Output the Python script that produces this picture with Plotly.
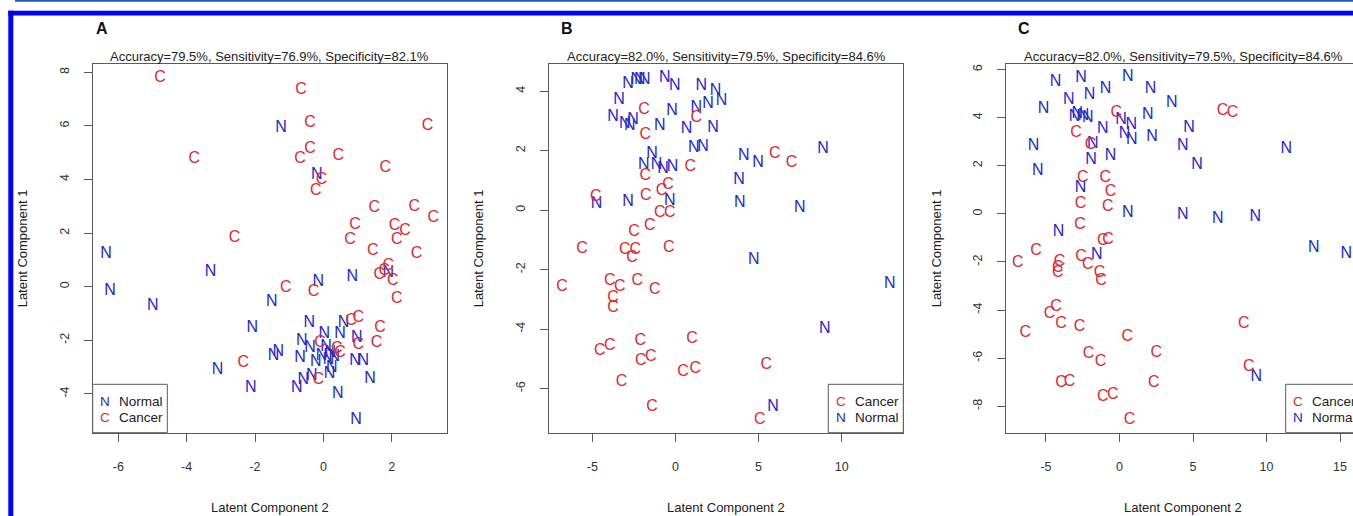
import plotly.graph_objects as go

# ---------------- data ----------------
# Panel A
a_cancer_x = [-4.78, -0.65, -0.39, 3.05, -3.78, -0.39, -0.68, 0.44, 1.81, -0.05, -0.22, 1.49, 2.66, 3.22,
              0.93, 2.08, 2.39, 0.78, 2.15, -2.60, 1.45, 2.73, 1.64, 1.90, 1.78, 2.03, 2.15, -1.10, -0.29,
              -2.34, 0.81, 1.02, 1.66, 1.02, 1.56, -0.10, 0.39, 0.49, -0.15]
a_cancer_y = [7.79, 7.35, 6.10, 5.98, 4.76, 5.13, 4.78, 4.88, 4.42, 3.99, 3.57, 2.92, 2.99, 2.58,
              2.29, 2.27, 2.06, 1.73, 1.74, 1.83, 1.33, 1.21, 0.42, 0.77, 0.60, 0.21, -0.47, -0.06, -0.20,
              -2.84, -1.29, -1.16, -1.53, -2.16, -2.09, -2.09, -2.34, -2.47, -3.47]
a_normal_x = [-1.24, -0.19, -6.36, 1.90, -3.30, -6.24, -4.99, -1.51, -0.15, 0.85, -2.08, -3.10, -2.12,
              -0.41, 0.59, 0.03, 0.49, 0.98, -0.63, -0.39, -1.32, -1.46, -0.68, -0.05, 0.20, 0.15, 0.25,
              0.93, 1.17, 1.37, -0.34, -0.59, -0.78, 0.42, 0.96, 0.08, 0.32, -0.22, 0.18]
a_normal_y = [5.94, 4.16, 1.21, 0.50, 0.55, -0.16, -0.72, -0.56, 0.17, 0.37, -1.56, -3.12, -3.78,
              -1.35, -1.35, -1.78, -1.78, -1.91, -2.03, -2.28, -2.44, -2.59, -2.65, -2.59, -2.47, -2.72, -3.03,
              -2.78, -2.78, -3.44, -3.34, -3.47, -3.78, -3.99, -4.99, -2.25, -2.62, -2.80, -3.25]

# Panel B
b_cancer_x = [-1.89, 1.26, -1.81, 0.90, -1.81, -0.45, -0.84, -1.79, -4.80, -0.94, -0.34, -1.55, -2.49,
              -5.62, -3.05, -2.41, -2.61, -0.40, -6.82, -3.95, -3.35, -2.29, -1.25, -3.75, -3.75, -4.55,
              -3.95, -2.11, 1.00, -2.09, -1.49, 0.46, 1.20, -3.25, -1.41, 5.47, 5.07, 5.97, 6.98]
b_cancer_y = [3.36, 3.10, 2.51, 1.46, 1.14, 0.86, 0.64, 0.47, 0.45, -0.11, -0.11, -0.54, -0.74,
              -1.32, -1.34, -1.34, -1.60, -1.26, -2.60, -2.38, -2.57, -2.38, -2.68, -2.94, -3.28, -4.73,
              -4.56, -4.40, -4.32, -5.07, -4.95, -5.44, -5.35, -5.79, -6.63, -5.21, -7.05, 1.87, 1.57]
b_normal_x = [-2.85, -2.35, -2.15, -1.85, -0.64, -0.04, 1.56, 2.41, -3.39, 1.26, 1.96, 2.77, -0.20,
              -3.75, -3.05, -2.75, -2.55, -0.94, 0.66, 2.26, 1.10, 1.66, -1.41, -1.91, -1.14, -0.75,
              -0.18, -4.75, -2.85, -0.34, 8.88, 4.11, 4.97, 3.83, 3.87, 7.48, 4.71, 12.89, 8.98, 5.87]
b_normal_y = [4.25, 4.36, 4.36, 4.36, 4.44, 4.16, 4.16, 3.99, 3.69, 3.44, 3.55, 3.66, 3.32,
              3.13, 2.88, 2.82, 3.04, 2.82, 2.73, 2.77, 2.09, 2.13, 1.87, 1.53, 1.50, 1.37,
              1.46, 0.19, 0.27, 0.30, 2.07, 1.81, 1.57, 1.01, 0.25, 0.08, -1.68, -2.49, -4.00, -6.63]

# Panel C
c_cancer_x = [-0.22, 7.01, 7.69, -2.95, -1.97, -2.50, -0.97, -0.61, -2.65, -0.80, -2.68, -1.14, -0.78,
              -5.67, -6.92, -4.08, -4.20, -4.20, -2.61, -2.16, -1.36, -1.25, -4.31, -4.76, -3.97, -2.72,
              -6.41, 0.52, 2.50, -2.11, -1.29, -3.97, -3.40, 2.33, -1.14, -0.46, 0.68, 8.46, 8.80]
c_cancer_y = [4.20, 4.26, 4.20, 3.37, 2.86, 1.51, 1.51, 0.91, 0.43, 0.29, -0.47, -1.14, -1.10,
              -1.54, -2.04, -2.00, -2.27, -2.45, -1.79, -2.13, -2.48, -2.79, -3.87, -4.17, -4.56, -4.70,
              -4.95, -5.11, -5.78, -5.81, -6.15, -7.05, -6.99, -7.05, -7.63, -7.54, -8.58, -4.56, -6.36]
c_normal_x = [-4.35, -2.61, 0.57, -2.04, -0.95, 2.11, -3.45, 3.56, -5.17, -2.88, -2.16, -3.06, 0.11,
              0.80, 1.93, 4.72, -1.14, 0.34, 0.84, 2.22, 4.31, -5.85, -1.81, -1.93, -0.61, 5.28, -5.56,
              -2.65, 0.57, 4.31, 6.69, 11.34, 9.23, 13.22, 15.42, -4.15, -1.54, 9.30, -2.45]
c_normal_y = [5.49, 5.63, 5.67, 4.94, 5.17, 5.21, 4.73, 4.59, 4.34, 4.17, 3.97, 4.03, 3.90,
              3.69, 4.13, 3.55, 3.51, 3.34, 3.09, 3.18, 2.82, 2.82, 2.90, 2.23, 2.40, 2.02, 1.78,
              1.06, 0.04, -0.05, -0.22, 2.69, -0.12, -1.44, -1.65, -0.75, -1.72, -6.80, 4.05]

# tick values / labels
a_xticks = [-6, -4, -2, 0, 2]
a_yticks = [-4, -2, 0, 2, 4, 6, 8]
b_xticks = [-5, 0, 5, 10]
b_yticks = [-6, -4, -2, 0, 2, 4]
c_xticks = [-5, 0, 5, 10, 15]
c_yticks = [-8, -6, -4, -2, 0, 2, 4, 6]

panel_letters = ["A", "B", "C"]
panel_titles = ["Accuracy=79.5%, Sensitivity=76.9%, Specificity=82.1%",
                "Accuracy=82.0%, Sensitivity=79.5%, Specificity=84.6%",
                "Accuracy=82.0%, Sensitivity=79.5%, Specificity=84.6%"]
x_title = "Latent Component 2"
y_title = "Latent Component 1"

# ---------------- styling ----------------
W, H = 1353, 516
FONT = "Liberation Sans, Arial, Helvetica, sans-serif"
RED = "#dc2a30"
BLUE = "#2626cc"
LINE = "#5a5a5a"
TXT = "#333333"


def fx(px):
    return px / W


def fy(py):
    return 1 - py / H


TOP, BOT = 64.0, 432.7
panels = [
    dict(sfx="", left=92.7, right=446.7, xr=[-6.75, 3.61], yr=[-5.45, 8.31],
         xt=a_xticks, yt=a_yticks, cx=a_cancer_x, cy=a_cancer_y, nx=a_normal_x, ny=a_normal_y,
         letter_x=101.7, legend_order=[("N", "Normal", BLUE), ("C", "Cancer", RED)],
         leg_left=92.7, leg_right=167.3, mirror_y=True, ytitle_x=22.0),
    dict(sfx="2", left=549.3, right=903.3, xr=[-7.59, 13.71], yr=[-7.48, 4.91],
         xt=b_xticks, yt=b_yticks, cx=b_cancer_x, cy=b_cancer_y, nx=b_normal_x, ny=b_normal_y,
         letter_x=566.7, legend_order=[("C", "Cancer", RED), ("N", "Normal", BLUE)],
         leg_left=828.3, leg_right=903.3, mirror_y=True, ytitle_x=478.0),
    dict(sfx="3", left=1006.0, right=1353.0, xr=[-7.72, 15.88], yr=[-9.10, 6.23],
         xt=c_xticks, yt=c_yticks, cx=c_cancer_x, cy=c_cancer_y, nx=c_normal_x, ny=c_normal_y,
         letter_x=1024.0, legend_order=[("C", "Cancer", RED), ("N", "Normal", BLUE)],
         leg_left=1285.7, leg_right=1365.0, mirror_y=False, ytitle_x=936.0),
]

fig = go.Figure()
layout = dict(
    width=W, height=H, margin=dict(l=0, r=0, t=0, b=0, pad=0),
    paper_bgcolor="white", plot_bgcolor="white", showlegend=False,
    font=dict(family=FONT, color=TXT),
)
shapes = []
annotations = []

for i, p in enumerate(panels):
    xa = "x" + p["sfx"]
    ya = "y" + p["sfx"]
    fig.add_trace(go.Scatter(x=p["nx"], y=p["ny"], mode="text", text=["N"] * len(p["nx"]),
                             textposition="middle center",
                             textfont=dict(color=BLUE, size=16, family=FONT),
                             xaxis=xa, yaxis=ya, hoverinfo="skip", cliponaxis=False))
    fig.add_trace(go.Scatter(x=p["cx"], y=p["cy"], mode="text", text=["C"] * len(p["cx"]),
                             textposition="middle center",
                             textfont=dict(color=RED, size=16, family=FONT),
                             xaxis=xa, yaxis=ya, hoverinfo="skip", cliponaxis=False))
    layout["xaxis" + p["sfx"]] = dict(
        domain=[fx(p["left"]), fx(p["right"])], range=p["xr"], anchor=ya,
        showline=True, mirror=True, linecolor=LINE, linewidth=1,
        ticks="outside", ticklen=8, tickwidth=1, tickcolor=LINE,
        tickmode="array", tickvals=p["xt"], ticktext=[str(v) for v in p["xt"]],
        tickfont=dict(size=12.5, color=TXT, family=FONT),
        showgrid=False, zeroline=False, ticklabelstandoff=14, fixedrange=True)
    layout["yaxis" + p["sfx"]] = dict(
        domain=[fy(BOT), fy(TOP)], range=p["yr"], anchor=xa,
        showline=True, mirror=p["mirror_y"], linecolor=LINE, linewidth=1,
        ticks="outside", ticklen=8, tickwidth=1, tickcolor=LINE,
        tickmode="array", tickvals=p["yt"], ticktext=[str(v) for v in p["yt"]],
        tickangle=-90, tickfont=dict(size=12.5, color=TXT, family=FONT),
        showgrid=False, zeroline=False, ticklabelstandoff=10, fixedrange=True)

    cxm = (p["left"] + (p["right"] if p["sfx"] != "3" else p["left"] + 354.0)) / 2
    # panel title
    annotations.append(dict(text=panel_titles[i], x=fx(cxm), y=fy(56.7), xref="paper", yref="paper",
                            showarrow=False, xanchor="center", yanchor="middle",
                            font=dict(size=13, color="#222222", family=FONT)))
    # panel letter
    annotations.append(dict(text="<b>%s</b>" % panel_letters[i], x=fx(p["letter_x"]), y=fy(28.3),
                            xref="paper", yref="paper", showarrow=False, xanchor="center",
                            yanchor="middle", font=dict(size=16, color="#111111", family=FONT)))
    # axis titles
    annotations.append(dict(text=x_title, x=fx(cxm), y=fy(507.3), xref="paper", yref="paper",
                            showarrow=False, xanchor="center", yanchor="middle",
                            font=dict(size=13, color="#222222", family=FONT)))
    annotations.append(dict(text=y_title, x=fx(p["ytitle_x"]), y=fy((TOP + BOT) / 2), xref="paper",
                            yref="paper", showarrow=False, xanchor="center", yanchor="middle",
                            textangle=-90, font=dict(size=13, color="#222222", family=FONT)))
    # legend box
    shapes.append(dict(type="rect", xref="paper", yref="paper",
                       x0=fx(p["leg_left"]), x1=fx(p["leg_right"]), y0=fy(BOT), y1=fy(384.3),
                       line=dict(color=LINE, width=1), fillcolor="white", layer="above"))
    sym_x = p["leg_left"] + 12.3
    lab_x = p["leg_left"] + 24.6
    for j, (sym, lab, col) in enumerate(p["legend_order"]):
        yy = 401.7 + 16.0 * j
        annotations.append(dict(text=sym, x=fx(sym_x), y=fy(yy), xref="paper", yref="paper",
                                showarrow=False, xanchor="center", yanchor="middle",
                                font=dict(size=13.5, color=col, family=FONT)))
        annotations.append(dict(text=lab, x=fx(lab_x), y=fy(yy), xref="paper", yref="paper",
                                showarrow=False, xanchor="left", yanchor="middle",
                                font=dict(size=13.5, color="#222222", family=FONT)))

# page frame: thin dark rule at top and thick blue border
shapes.append(dict(type="rect", xref="paper", yref="paper", x0=fx(15), x1=1.0, y0=fy(1.8), y1=1.0,
                   line=dict(width=0), fillcolor="#1d5ba8", layer="above"))
shapes.append(dict(type="rect", xref="paper", yref="paper", x0=fx(8.3), x1=1.0, y0=fy(15.5), y1=fy(10.8),
                   line=dict(width=0), fillcolor="#0000ff", layer="above"))
shapes.append(dict(type="rect", xref="paper", yref="paper", x0=fx(8.3), x1=fx(13.3), y0=0.0, y1=fy(10.8),
                   line=dict(width=0), fillcolor="#0000ff", layer="above"))

layout["shapes"] = shapes
layout["annotations"] = annotations
fig.update_layout(**layout)

fig.write_html("out.html", config={"displayModeBar": False, "staticPlot": True},
               post_script="document.body.style.margin='0';document.body.style.overflow='hidden';")
